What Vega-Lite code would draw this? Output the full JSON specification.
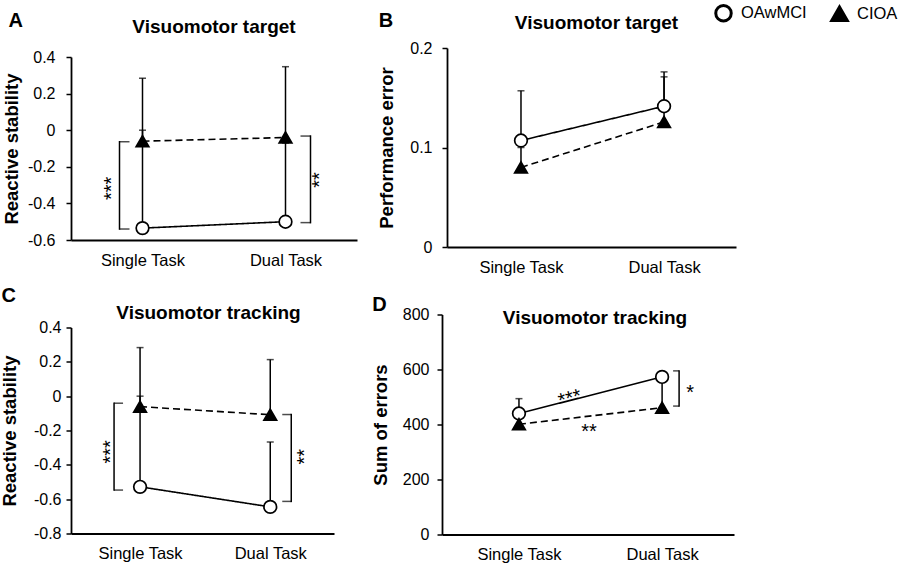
{
  "$schema": "https://vega.github.io/schema/vega-lite/v6.json",
  "padding": {"left": 0, "top": 3, "right": 0, "bottom": 0},
  "datasets": {
    "a": [
      {"task": "Single Task", "group": "OAwMCI", "mean": -0.535, "upper": 0.0},
      {"task": "Dual Task", "group": "OAwMCI", "mean": -0.5, "upper": -0.07},
      {"task": "Single Task", "group": "CIOA", "mean": -0.06, "upper": 0.284},
      {"task": "Dual Task", "group": "CIOA", "mean": -0.04, "upper": 0.347}
    ],
    "b": [
      {"task": "Single Task", "group": "OAwMCI", "mean": 0.107, "upper": 0.157},
      {"task": "Dual Task", "group": "OAwMCI", "mean": 0.1415, "upper": 0.176},
      {"task": "Single Task", "group": "CIOA", "mean": 0.08, "upper": 0.1},
      {"task": "Dual Task", "group": "CIOA", "mean": 0.1257, "upper": 0.171}
    ],
    "c": [
      {"task": "Single Task", "group": "OAwMCI", "mean": -0.528, "upper": 0.0},
      {"task": "Dual Task", "group": "OAwMCI", "mean": -0.645, "upper": -0.267},
      {"task": "Single Task", "group": "CIOA", "mean": -0.061, "upper": 0.283},
      {"task": "Dual Task", "group": "CIOA", "mean": -0.108, "upper": 0.213}
    ],
    "d": [
      {"task": "Single Task", "group": "OAwMCI", "mean": 440, "upper": 494},
      {"task": "Dual Task", "group": "OAwMCI", "mean": 573, "upper": null},
      {"task": "Single Task", "group": "CIOA", "mean": 401, "upper": 425},
      {"task": "Dual Task", "group": "CIOA", "mean": 461, "upper": 555}
    ],
    "brackets": [
      {"panel": "A", "task": "Single Task", "side": "left", "top": -0.063, "bottom": -0.54},
      {"panel": "A", "task": "Dual Task", "side": "right", "top": -0.032, "bottom": -0.505},
      {"panel": "C", "task": "Single Task", "side": "left", "top": -0.041, "bottom": -0.547},
      {"panel": "C", "task": "Dual Task", "side": "right", "top": -0.107, "bottom": -0.613},
      {"panel": "D", "task": "Dual Task", "side": "right", "top": 595, "bottom": 467}
    ],
    "stars": [
      {"panel": "A", "task": "Single Task", "side": "left", "label": "***", "y": -0.318},
      {"panel": "A", "task": "Dual Task", "side": "right", "label": "**", "y": -0.272},
      {"panel": "C", "task": "Single Task", "side": "left", "label": "***", "y": -0.324},
      {"panel": "C", "task": "Dual Task", "side": "right", "label": "**", "y": -0.353},
      {"panel": "D", "task": "Dual Task", "side": "right", "label": "*", "y": 531},
      {"panel": "D", "task": "Single Task", "side": "solid", "label": "***", "y": 512},
      {"panel": "D", "task": "Single Task", "side": "dashed", "label": "**", "y": 391}
    ]
  },
  "spacing": 9.5,
  "vconcat": [
    {
      "spacing": 20,
      "hconcat": [
        {
          "title": {"text": "A", "anchor": "start", "fontSize": 20, "offset": -13, "dx": 6},
          "vconcat": [
            {
              "width": 286, "height": 192,
              "title": {"text": "Visuomotor target", "offset": 11},
              "layer": [
                {"data": {"name": "a"}, "mark": {"type": "rule", "color": "black", "strokeWidth": 1.5},
                 "encoding": {
                   "x": {"field": "task", "type": "nominal", "sort": ["Single Task", "Dual Task"], "scale": {"type": "point", "padding": 0.5, "align": 0.5}, "axis": {"title": null}},
                   "y": {"field": "mean", "type": "quantitative", "scale": {"domain": [-0.6, 0.4], "range": [192, 9], "nice": false, "zero": false}, "axis": {"title": "Reactive stability", "values": [-0.6, -0.4, -0.2, 0, 0.2, 0.4], "tickCount": 20, "labelExpr": "'' + datum.value", "labelOverlap": false, "labelPadding": 11, "titlePadding": 6}},
                   "y2": {"field": "upper"}}},
                {"data": {"name": "a"}, "mark": {"type": "tick", "orient": "horizontal", "color": "black", "size": 7, "thickness": 1.5},
                 "encoding": {"x": {"field": "task", "type": "nominal", "sort": ["Single Task", "Dual Task"]}, "y": {"field": "upper", "type": "quantitative"}}},
                {"data": {"name": "a"}, "mark": {"type": "line", "color": "black", "strokeWidth": 1.6},
                 "encoding": {"x": {"field": "task", "type": "nominal", "sort": ["Single Task", "Dual Task"]}, "y": {"field": "mean", "type": "quantitative"},
                   "strokeDash": {"field": "group", "type": "nominal", "scale": {"domain": ["OAwMCI", "CIOA"], "range": [[1, 0], [7, 4]]}, "legend": null}}},
                {"data": {"name": "brackets"}, "transform": [{"filter": "datum.panel == 'A' && datum.side == 'left'"}],
                 "mark": {"type": "rule", "color": "black", "strokeWidth": 1.5, "xOffset": -23, "strokeCap": "square"},
                 "encoding": {"x": {"field": "task", "type": "nominal", "sort": ["Single Task", "Dual Task"]}, "y": {"field": "top", "type": "quantitative"}, "y2": {"field": "bottom"}}},
                {"data": {"name": "brackets"}, "transform": [{"filter": "datum.panel == 'A' && datum.side == 'left'"}, {"fold": ["top", "bottom"], "as": ["end", "yv"]}],
                 "mark": {"type": "tick", "orient": "horizontal", "color": "black", "size": 10, "thickness": 1.5, "xOffset": -18},
                 "encoding": {"x": {"field": "task", "type": "nominal", "sort": ["Single Task", "Dual Task"]}, "y": {"field": "yv", "type": "quantitative"}}},
                {"data": {"name": "brackets"}, "transform": [{"filter": "datum.panel == 'A' && datum.side == 'right'"}],
                 "mark": {"type": "rule", "color": "black", "strokeWidth": 1.5, "xOffset": 25, "strokeCap": "square"},
                 "encoding": {"x": {"field": "task", "type": "nominal", "sort": ["Single Task", "Dual Task"]}, "y": {"field": "top", "type": "quantitative"}, "y2": {"field": "bottom"}}},
                {"data": {"name": "brackets"}, "transform": [{"filter": "datum.panel == 'A' && datum.side == 'right'"}, {"fold": ["top", "bottom"], "as": ["end", "yv"]}],
                 "mark": {"type": "tick", "orient": "horizontal", "color": "black", "size": 10, "thickness": 1.5, "xOffset": 20},
                 "encoding": {"x": {"field": "task", "type": "nominal", "sort": ["Single Task", "Dual Task"]}, "y": {"field": "yv", "type": "quantitative"}}},
                {"data": {"name": "stars"}, "transform": [{"filter": "datum.panel == 'A' && datum.side == 'left'"}],
                 "mark": {"type": "text", "fontSize": 20, "angle": 270, "align": "center", "baseline": "middle", "color": "black", "xOffset": -31},
                 "encoding": {"x": {"field": "task", "type": "nominal", "sort": ["Single Task", "Dual Task"]}, "y": {"field": "y", "type": "quantitative"}, "text": {"field": "label"}}},
                {"data": {"name": "stars"}, "transform": [{"filter": "datum.panel == 'A' && datum.side == 'right'"}],
                 "mark": {"type": "text", "fontSize": 20, "angle": 270, "align": "center", "baseline": "middle", "color": "black", "xOffset": 34},
                 "encoding": {"x": {"field": "task", "type": "nominal", "sort": ["Single Task", "Dual Task"]}, "y": {"field": "y", "type": "quantitative"}, "text": {"field": "label"}}},
                {"data": {"name": "a"}, "mark": {"type": "point", "filled": true, "strokeWidth": 1.7, "size": 160, "opacity": 1},
                 "encoding": {"x": {"field": "task", "type": "nominal", "sort": ["Single Task", "Dual Task"]}, "y": {"field": "mean", "type": "quantitative"},
                   "shape": {"field": "group", "type": "nominal", "scale": {"domain": ["OAwMCI", "CIOA"], "range": ["circle", "triangle-up"]}, "legend": null},
                   "fill": {"field": "group", "type": "nominal", "scale": {"domain": ["OAwMCI", "CIOA"], "range": ["white", "black"]}, "legend": null},
                   "stroke": {"field": "group", "type": "nominal", "scale": {"domain": ["OAwMCI", "CIOA"], "range": ["black", "black"]}, "legend": null}}}
              ]
            }
          ]
        },
        {
          "title": {"text": "B", "anchor": "start", "fontSize": 20, "offset": -28, "dx": 1},
          "resolve": {"legend": {"shape": "independent", "fill": "independent", "stroke": "independent"}},
          "vconcat": [
            {
              "width": 289, "height": 199,
              "title": {"text": "Visuomotor target", "offset": -30, "dx": 5},
              "layer": [
                {"data": {"name": "b"}, "mark": {"type": "rule", "color": "black", "strokeWidth": 1.5},
                 "encoding": {
                   "x": {"field": "task", "type": "nominal", "sort": ["Single Task", "Dual Task"], "scale": {"type": "point", "padding": 0.51, "align": 0.507}, "axis": {"title": null}},
                   "y": {"field": "mean", "type": "quantitative", "scale": {"domain": [0, 0.2], "nice": false, "zero": false}, "axis": {"title": "Performance error", "values": [0, 0.1, 0.2], "tickCount": 20, "labelExpr": "'' + datum.value", "labelOverlap": false, "labelPadding": 10, "titlePadding": 13}},
                   "y2": {"field": "upper"}}},
                {"data": {"name": "b"}, "mark": {"type": "tick", "orient": "horizontal", "color": "black", "size": 7, "thickness": 1.5},
                 "encoding": {"x": {"field": "task", "type": "nominal", "sort": ["Single Task", "Dual Task"]}, "y": {"field": "upper", "type": "quantitative"}}},
                {"data": {"name": "b"}, "mark": {"type": "line", "color": "black", "strokeWidth": 1.6},
                 "encoding": {"x": {"field": "task", "type": "nominal", "sort": ["Single Task", "Dual Task"]}, "y": {"field": "mean", "type": "quantitative"},
                   "strokeDash": {"field": "group", "type": "nominal", "scale": {"domain": ["OAwMCI", "CIOA"], "range": [[1, 0], [7, 4]]}, "legend": null}}},
                {"data": {"name": "b"}, "mark": {"type": "point", "filled": true, "strokeWidth": 1.7, "size": 160, "opacity": 1},
                 "encoding": {"x": {"field": "task", "type": "nominal", "sort": ["Single Task", "Dual Task"]}, "y": {"field": "mean", "type": "quantitative"},
                   "shape": {"field": "group", "type": "nominal", "scale": {"domain": ["OAwMCI", "CIOA"], "range": ["circle", "triangle-up"]},
                     "legend": {"title": null, "orient": "none", "legendX": 267, "legendY": -44.6, "direction": "horizontal", "labelFontSize": 16.5, "labelColor": "black", "symbolSize": 240, "symbolStrokeWidth": 3, "columnPadding": 18, "labelOffset": 8, "padding": 0}},
                   "fill": {"field": "group", "type": "nominal", "scale": {"domain": ["OAwMCI", "CIOA"], "range": ["white", "black"]},
                     "legend": {"title": null, "orient": "none", "legendX": 267, "legendY": -44.6, "direction": "horizontal", "labelFontSize": 16.5, "labelColor": "black", "symbolSize": 240, "symbolStrokeWidth": 3, "columnPadding": 18, "labelOffset": 8, "padding": 0}},
                   "stroke": {"field": "group", "type": "nominal", "scale": {"domain": ["OAwMCI", "CIOA"], "range": ["black", "black"]},
                     "legend": {"title": null, "orient": "none", "legendX": 267, "legendY": -44.6, "direction": "horizontal", "labelFontSize": 16.5, "labelColor": "black", "symbolSize": 240, "symbolStrokeWidth": 3, "columnPadding": 18, "labelOffset": 8, "padding": 0}}}}
              ]
            }
          ]
        }
      ]
    },
    {
      "spacing": 37,
      "hconcat": [
        {
          "title": {"text": "C", "anchor": "start", "fontSize": 20, "offset": -2, "dx": 1},
          "vconcat": [
            {
              "width": 263, "height": 219,
              "title": {"text": "Visuomotor tracking", "offset": -8, "dx": 6},
              "layer": [
                {"data": {"name": "c"}, "mark": {"type": "rule", "color": "black", "strokeWidth": 1.5},
                 "encoding": {
                   "x": {"field": "task", "type": "nominal", "sort": ["Single Task", "Dual Task"], "scale": {"type": "point", "padding": 0.51, "align": 0.52}, "axis": {"title": null}},
                   "y": {"field": "mean", "type": "quantitative", "scale": {"domain": [-0.8, 0.4], "range": [219, 13], "nice": false, "zero": false}, "axis": {"title": "Reactive stability", "values": [-0.8, -0.6, -0.4, -0.2, 0, 0.2, 0.4], "tickCount": 20, "labelExpr": "'' + datum.value", "labelOverlap": false, "labelPadding": 5, "titlePadding": 14}},
                   "y2": {"field": "upper"}}},
                {"data": {"name": "c"}, "mark": {"type": "tick", "orient": "horizontal", "color": "black", "size": 7, "thickness": 1.5},
                 "encoding": {"x": {"field": "task", "type": "nominal", "sort": ["Single Task", "Dual Task"]}, "y": {"field": "upper", "type": "quantitative"}}},
                {"data": {"name": "c"}, "mark": {"type": "line", "color": "black", "strokeWidth": 1.6},
                 "encoding": {"x": {"field": "task", "type": "nominal", "sort": ["Single Task", "Dual Task"]}, "y": {"field": "mean", "type": "quantitative"},
                   "strokeDash": {"field": "group", "type": "nominal", "scale": {"domain": ["OAwMCI", "CIOA"], "range": [[1, 0], [7, 4]]}, "legend": null}}},
                {"data": {"name": "brackets"}, "transform": [{"filter": "datum.panel == 'C' && datum.side == 'left'"}],
                 "mark": {"type": "rule", "color": "black", "strokeWidth": 1.5, "xOffset": -26, "strokeCap": "square"},
                 "encoding": {"x": {"field": "task", "type": "nominal", "sort": ["Single Task", "Dual Task"]}, "y": {"field": "top", "type": "quantitative"}, "y2": {"field": "bottom"}}},
                {"data": {"name": "brackets"}, "transform": [{"filter": "datum.panel == 'C' && datum.side == 'left'"}, {"fold": ["top", "bottom"], "as": ["end", "yv"]}],
                 "mark": {"type": "tick", "orient": "horizontal", "color": "black", "size": 9, "thickness": 1.5, "xOffset": -21.5},
                 "encoding": {"x": {"field": "task", "type": "nominal", "sort": ["Single Task", "Dual Task"]}, "y": {"field": "yv", "type": "quantitative"}}},
                {"data": {"name": "brackets"}, "transform": [{"filter": "datum.panel == 'C' && datum.side == 'right'"}],
                 "mark": {"type": "rule", "color": "black", "strokeWidth": 1.5, "xOffset": 21, "strokeCap": "square"},
                 "encoding": {"x": {"field": "task", "type": "nominal", "sort": ["Single Task", "Dual Task"]}, "y": {"field": "top", "type": "quantitative"}, "y2": {"field": "bottom"}}},
                {"data": {"name": "brackets"}, "transform": [{"filter": "datum.panel == 'C' && datum.side == 'right'"}, {"fold": ["top", "bottom"], "as": ["end", "yv"]}],
                 "mark": {"type": "tick", "orient": "horizontal", "color": "black", "size": 9, "thickness": 1.5, "xOffset": 16.5},
                 "encoding": {"x": {"field": "task", "type": "nominal", "sort": ["Single Task", "Dual Task"]}, "y": {"field": "yv", "type": "quantitative"}}},
                {"data": {"name": "stars"}, "transform": [{"filter": "datum.panel == 'C' && datum.side == 'left'"}],
                 "mark": {"type": "text", "fontSize": 20, "angle": 270, "align": "center", "baseline": "middle", "color": "black", "xOffset": -29},
                 "encoding": {"x": {"field": "task", "type": "nominal", "sort": ["Single Task", "Dual Task"]}, "y": {"field": "y", "type": "quantitative"}, "text": {"field": "label"}}},
                {"data": {"name": "stars"}, "transform": [{"filter": "datum.panel == 'C' && datum.side == 'right'"}],
                 "mark": {"type": "text", "fontSize": 20, "angle": 270, "align": "center", "baseline": "middle", "color": "black", "xOffset": 35},
                 "encoding": {"x": {"field": "task", "type": "nominal", "sort": ["Single Task", "Dual Task"]}, "y": {"field": "y", "type": "quantitative"}, "text": {"field": "label"}}},
                {"data": {"name": "c"}, "mark": {"type": "point", "filled": true, "strokeWidth": 1.7, "size": 160, "opacity": 1},
                 "encoding": {"x": {"field": "task", "type": "nominal", "sort": ["Single Task", "Dual Task"]}, "y": {"field": "mean", "type": "quantitative"},
                   "shape": {"field": "group", "type": "nominal", "scale": {"domain": ["OAwMCI", "CIOA"], "range": ["circle", "triangle-up"]}, "legend": null},
                   "fill": {"field": "group", "type": "nominal", "scale": {"domain": ["OAwMCI", "CIOA"], "range": ["white", "black"]}, "legend": null},
                   "stroke": {"field": "group", "type": "nominal", "scale": {"domain": ["OAwMCI", "CIOA"], "range": ["black", "black"]}, "legend": null}}}
              ]
            }
          ]
        },
        {
          "title": {"text": "D", "anchor": "start", "fontSize": 20, "offset": -8, "dx": 1},
          "vconcat": [
            {
              "width": 292, "height": 220,
              "title": {"text": "Visuomotor tracking", "offset": -21, "dx": 7},
              "layer": [
                {"data": {"name": "d"}, "transform": [{"filter": "datum.upper != null"}], "mark": {"type": "rule", "color": "black", "strokeWidth": 1.5},
                 "encoding": {
                   "x": {"field": "task", "type": "nominal", "sort": ["Single Task", "Dual Task"], "scale": {"type": "point", "padding": 0.52, "align": 0.517}, "axis": {"title": null}},
                   "y": {"field": "mean", "type": "quantitative", "scale": {"domain": [0, 800], "nice": false, "zero": false}, "axis": {"title": "Sum of errors", "values": [0, 200, 400, 600, 800], "tickCount": 20, "labelExpr": "'' + datum.value", "labelOverlap": false, "labelPadding": 8, "titlePadding": 12}},
                   "y2": {"field": "upper"}}},
                {"data": {"name": "d"}, "transform": [{"filter": "datum.upper != null"}], "mark": {"type": "tick", "orient": "horizontal", "color": "black", "size": 7, "thickness": 1.5},
                 "encoding": {"x": {"field": "task", "type": "nominal", "sort": ["Single Task", "Dual Task"]}, "y": {"field": "upper", "type": "quantitative"}}},
                {"data": {"name": "d"}, "mark": {"type": "line", "color": "black", "strokeWidth": 1.6},
                 "encoding": {"x": {"field": "task", "type": "nominal", "sort": ["Single Task", "Dual Task"]}, "y": {"field": "mean", "type": "quantitative"},
                   "strokeDash": {"field": "group", "type": "nominal", "scale": {"domain": ["OAwMCI", "CIOA"], "range": [[1, 0], [7, 4]]}, "legend": null}}},
                {"data": {"name": "brackets"}, "transform": [{"filter": "datum.panel == 'D'"}],
                 "mark": {"type": "rule", "color": "black", "strokeWidth": 1.5, "xOffset": 17, "strokeCap": "square"},
                 "encoding": {"x": {"field": "task", "type": "nominal", "sort": ["Single Task", "Dual Task"]}, "y": {"field": "top", "type": "quantitative"}, "y2": {"field": "bottom"}}},
                {"data": {"name": "brackets"}, "transform": [{"filter": "datum.panel == 'D'"}, {"fold": ["top", "bottom"], "as": ["end", "yv"]}],
                 "mark": {"type": "tick", "orient": "horizontal", "color": "black", "size": 6, "thickness": 1.5, "xOffset": 14},
                 "encoding": {"x": {"field": "task", "type": "nominal", "sort": ["Single Task", "Dual Task"]}, "y": {"field": "yv", "type": "quantitative"}}},
                {"data": {"name": "stars"}, "transform": [{"filter": "datum.panel == 'D' && datum.side == 'right'"}],
                 "mark": {"type": "text", "fontSize": 20, "align": "center", "baseline": "middle", "color": "black", "xOffset": 28, "yOffset": 5},
                 "encoding": {"x": {"field": "task", "type": "nominal", "sort": ["Single Task", "Dual Task"]}, "y": {"field": "y", "type": "quantitative"}, "text": {"field": "label"}}},
                {"data": {"name": "stars"}, "transform": [{"filter": "datum.panel == 'D' && datum.side == 'solid'"}],
                 "mark": {"type": "text", "fontSize": 20, "angle": 345, "align": "center", "baseline": "middle", "color": "black", "xOffset": 51, "yOffset": 5},
                 "encoding": {"x": {"field": "task", "type": "nominal", "sort": ["Single Task", "Dual Task"]}, "y": {"field": "y", "type": "quantitative"}, "text": {"field": "label"}}},
                {"data": {"name": "stars"}, "transform": [{"filter": "datum.panel == 'D' && datum.side == 'dashed'"}],
                 "mark": {"type": "text", "fontSize": 20, "align": "center", "baseline": "middle", "color": "black", "xOffset": 70, "yOffset": 5},
                 "encoding": {"x": {"field": "task", "type": "nominal", "sort": ["Single Task", "Dual Task"]}, "y": {"field": "y", "type": "quantitative"}, "text": {"field": "label"}}},
                {"data": {"name": "d"}, "mark": {"type": "point", "filled": true, "strokeWidth": 1.7, "size": 160, "opacity": 1},
                 "encoding": {"x": {"field": "task", "type": "nominal", "sort": ["Single Task", "Dual Task"]}, "y": {"field": "mean", "type": "quantitative"},
                   "shape": {"field": "group", "type": "nominal", "scale": {"domain": ["OAwMCI", "CIOA"], "range": ["circle", "triangle-up"]}, "legend": null},
                   "fill": {"field": "group", "type": "nominal", "scale": {"domain": ["OAwMCI", "CIOA"], "range": ["white", "black"]}, "legend": null},
                   "stroke": {"field": "group", "type": "nominal", "scale": {"domain": ["OAwMCI", "CIOA"], "range": ["black", "black"]}, "legend": null}}}
              ]
            }
          ]
        }
      ]
    }
  ],
  "config": {
    "font": "Liberation Sans",
    "view": {"stroke": null},
    "axis": {"labelFont": "Liberation Sans", "labelFontSize": 16, "labelColor": "black", "labelOverlap": false, "labelBound": false, "titleFont": "Liberation Sans", "titleFontSize": 18.5, "titleFontWeight": "bold", "titleColor": "black", "domainColor": "black", "domainWidth": 1.8, "tickColor": "black", "tickWidth": 1.5, "tickSize": 5, "grid": false},
    "axisX": {"ticks": false, "labelPadding": 12, "labelAngle": 0, "labelFontSize": 16.5},
    "title": {"font": "Liberation Sans", "fontSize": 19, "fontWeight": "bold", "color": "black"},
    "legend": {"labelFont": "Liberation Sans"}
  }
}
